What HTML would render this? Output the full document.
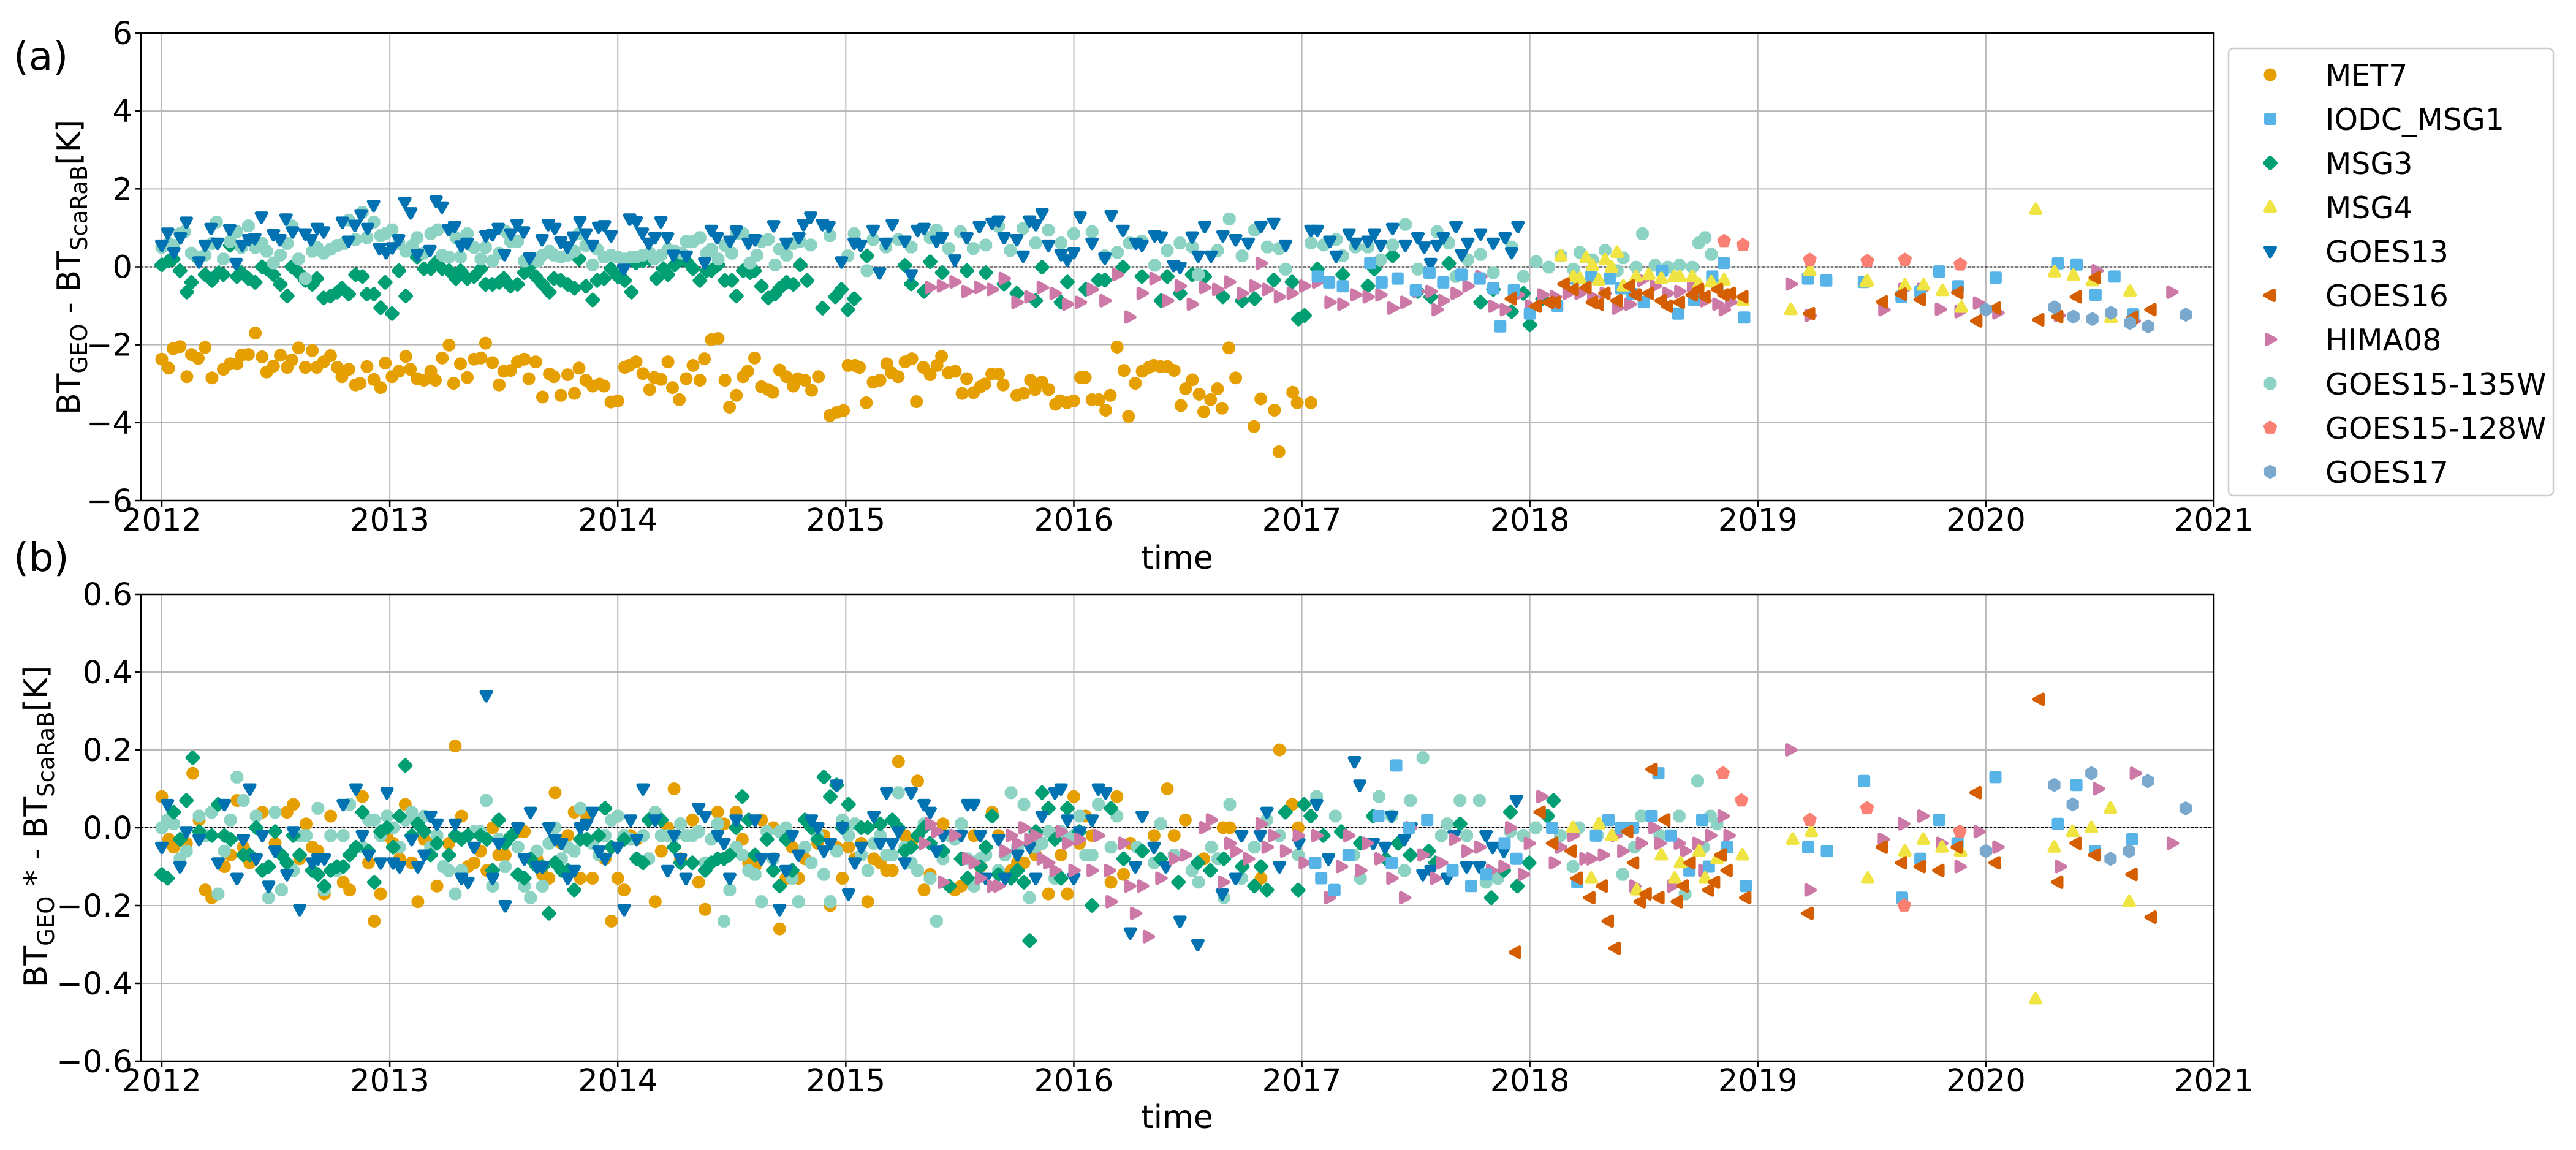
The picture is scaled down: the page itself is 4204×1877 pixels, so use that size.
<!DOCTYPE html>
<html><head><meta charset="utf-8"><title>BT GEO - ScaRaB</title>
<style>
html,body{margin:0;padding:0;background:#fff;}
svg{display:block;font-family:"DejaVu Sans","Liberation Sans",sans-serif;}
</style></head>
<body>
<svg id="fig" width="4204" height="1877" viewBox="0 0 4204 1877" xmlns="http://www.w3.org/2000/svg">
<rect width="4204" height="1877" fill="#fff"/>
<g id="panelA"></g>
<g id="panelB"></g>
<text x="22" y="114" font-size="64">(a)</text>
<text x="22" y="932" font-size="64">(b)</text>
<text x="1921" y="928" font-size="52" text-anchor="middle">time</text>
<text x="1921" y="1841" font-size="52" text-anchor="middle">time</text>
<text transform="translate(130,436) rotate(-90)" font-size="52" text-anchor="middle">BT<tspan font-size="37" dy="12">GEO</tspan><tspan dy="-12"> - BT</tspan><tspan font-size="37" dy="12">ScaRaB</tspan><tspan dy="-12">[K]</tspan></text>
<text transform="translate(76,1349) rotate(-90)" font-size="52" text-anchor="middle">BT<tspan font-size="37" dy="12">GEO</tspan><tspan dy="-12"> * - BT</tspan><tspan font-size="37" dy="12">ScaRaB</tspan><tspan dy="-12">[K]</tspan></text>
<g id="legend"></g>
</svg>
<script>
// ---------- top panel (a) data ----------
const met7A_t=[2012.00,2012.03,2012.05,2012.08,2012.11,2012.13,2012.16,2012.19,2012.22,2012.27,2012.30,2012.33,2012.35,2012.38,2012.41,2012.44,2012.46,2012.49,2012.52,2012.55,2012.57,2012.60,2012.63,2012.66,2012.68,2012.71,2012.74,2012.77,2012.79,2012.82,2012.85,2012.87,2012.90,2012.93,2012.96,2012.98,2013.01,2013.04,2013.07,2013.09,2013.12,2013.15,2013.18,2013.20,2013.23,2013.26,2013.28,2013.31,2013.34,2013.37,2013.40,2013.42,2013.45,2013.48,2013.50,2013.53,2013.56,2013.59,2013.61,2013.64,2013.67,2013.70,2013.72,2013.75,2013.78,2013.81,2013.83,2013.86,2013.89,2013.92,2013.94,2013.97,2014.00,2014.03,2014.05,2014.08,2014.11,2014.14,2014.16,2014.19,2014.22,2014.24,2014.27,2014.30,2014.33,2014.36,2014.38,2014.41,2014.44,2014.47,2014.49,2014.52,2014.55,2014.57,2014.60,2014.63,2014.66,2014.68,2014.71,2014.74,2014.77,2014.79,2014.82,2014.85,2014.88,2014.93,2014.96,2014.99,2015.01,
2015.04,2015.06,2015.09,2015.12,2015.15,2015.18,2015.20,2015.23,2015.26,2015.29,2015.31,2015.34,2015.37,2015.40,2015.42,2015.45,2015.48,2015.51,2015.53,2015.56,2015.59,2015.61,2015.64,2015.67,2015.69,2015.75,2015.78,2015.81,2015.83,2015.86,2015.89,2015.92,2015.94,2015.97,2016.00,2016.03,2016.05,2016.08,2016.11,2016.14,2016.16,2016.19,2016.22,2016.24,2016.27,2016.30,2016.33,2016.35,2016.38,2016.41,2016.44,2016.47,2016.49,2016.52,2016.55,2016.57,2016.60,2016.63,2016.65,2016.68,2016.71,2016.79,2016.82,2016.88,2016.90,2016.96,2016.98,2017.04];
const met7A_v=[-2.37,-2.6,-2.1,-2.05,-2.82,-2.25,-2.35,-2.07,-2.85,-2.63,-2.49,-2.49,-2.27,-2.25,-1.7,-2.31,-2.7,-2.55,-2.27,-2.58,-2.39,-2.08,-2.58,-2.15,-2.58,-2.44,-2.28,-2.58,-2.82,-2.63,-3.03,-2.99,-2.56,-2.89,-3.1,-2.47,-2.82,-2.68,-2.3,-2.63,-2.87,-2.91,-2.68,-2.91,-2.34,-2.01,-2.99,-2.49,-2.84,-2.37,-2.34,-1.96,-2.46,-3.03,-2.68,-2.66,-2.44,-2.37,-2.87,-2.44,-3.34,-2.75,-2.82,-3.3,-2.77,-3.25,-2.6,-2.91,-3.06,-3.01,-3.06,-3.47,-3.44,-2.58,-2.53,-2.44,-2.74,-3.15,-2.84,-2.89,-2.44,-3.1,-3.41,-2.87,-2.53,-2.91,-2.36,-1.87,-1.84,-2.91,-3.6,-3.3,-2.82,-2.68,-2.34,-3.08,-3.15,-3.22,-2.65,-2.82,-3.06,-2.87,-2.91,-3.17,-2.82,-3.82,-3.74,-3.69,-2.53,
-2.53,-2.58,-3.49,-2.96,-2.91,-2.49,-2.72,-2.82,-2.44,-2.36,-3.46,-2.58,-2.77,-2.53,-2.3,-2.72,-2.68,-3.25,-2.87,-3.23,-3.08,-3.01,-2.75,-2.75,-3.03,-3.3,-3.25,-2.91,-3.15,-2.96,-3.15,-3.53,-3.44,-3.49,-3.44,-2.84,-2.84,-3.41,-3.41,-3.68,-3.3,-2.06,-2.66,-3.84,-2.99,-2.68,-2.58,-2.53,-2.56,-2.56,-2.66,-3.56,-3.13,-2.9,-3.27,-3.72,-3.41,-3.13,-3.63,-2.08,-2.85,-4.1,-3.39,-3.68,-4.75,-3.22,-3.49,-3.49];

const g13A_t=[2012.0,2012.026,2012.053,2012.082,2012.108,2012.163,2012.19,2012.216,2012.245,2012.298,2012.326,2012.353,2012.382,2012.408,2012.437,2012.49,2012.518,2012.545,2012.574,2012.629,2012.655,2012.682,2012.71,2012.792,2012.819,2012.847,2012.874,2012.903,2012.929,2012.955,2012.984,2013.011,2013.039,2013.066,2013.092,2013.121,2013.176,2013.203,2013.229,2013.258,2013.284,2013.313,2013.339,2013.421,2013.45,2013.476,2013.503,2013.531,2013.558,2013.587,2013.613,2013.668,2013.695,2013.724,2013.75,2013.779,2013.805,2013.834,2013.86,2013.889,2013.916,2013.942,2013.971,2014.026,2014.052,2014.081,2014.108,2014.136,2014.163,2014.189,2014.218,2014.244,2014.3,2014.381,2014.41,2014.436,2014.492,2014.52,2014.573,2014.602,2014.684,2014.739,2014.794,
2014.815,2014.846,2014.898,2014.926,2014.981,2015.037,2015.065,2015.12,2015.148,2015.176,2015.204,2015.259,2015.287,2015.315,2015.343,2015.398,2015.423,2015.478,2015.531,2015.586,2015.642,2015.67,2015.694,2015.75,2015.778,2015.806,2015.833,2015.861,2015.889,2015.944,2015.972,2016.0,2016.028,2016.08,2016.136,2016.164,2016.216,2016.272,2016.299,2016.355,2016.383,2016.438,2016.466,2016.519,2016.546,2016.574,2016.602,2016.654,2016.71,2016.765,2016.821,2016.877,2016.929,2017.04,2017.068,2017.123,2017.151,2017.207,2017.235,2017.29,2017.318,2017.346,2017.398,2017.454,2017.509,2017.537,2017.565,2017.593,2017.62,2017.676,2017.701,2017.728,2017.784,2017.84,2017.892,2017.92,2017.948];
const g13A_v=[0.56,0.87,0.37,0.75,1.15,0.13,0.56,0.99,0.61,0.96,0.09,0.56,0.7,0.73,1.28,0.83,0.7,1.23,0.9,0.85,0.7,0.99,0.9,1.15,0.66,1.07,1.34,0.99,1.58,0.47,0.37,0.49,0.7,1.66,1.39,0.32,0.42,1.69,1.54,0.96,1.04,0.54,0.61,0.8,0.83,0.99,0.32,0.85,1.09,0.9,0.23,0.7,1.09,0.99,0.64,0.51,0.77,1.16,0.85,0.56,1.02,1.06,0.8,-0.06,1.23,1.16,0.87,0.61,0.75,1.16,0.75,0.3,0.28,0.11,0.94,0.75,0.66,0.92,0.61,0.7,1.06,0.61,0.75,
1.09,1.28,1.09,1.04,0.13,0.61,0.56,0.94,-0.15,0.61,1.09,0.66,-0.2,0.94,0.99,0.66,0.75,0.18,0.75,1.04,1.13,1.18,0.75,0.7,0.28,1.18,1.09,1.37,0.56,0.32,0.18,0.37,1.28,0.61,0.23,1.32,0.94,0.61,0.56,0.8,0.77,0.04,-0.01,0.77,0.28,1.04,0.28,0.8,0.7,0.61,1.04,1.13,0.56,0.94,0.94,0.66,0.28,0.85,0.61,0.66,0.85,0.56,0.99,0.56,0.75,0.51,0.09,0.56,0.75,1.04,0.32,0.61,0.85,0.61,0.75,0.37,1.04];

const msg3A_t=[2012.0,2012.03,2012.05,2012.08,2012.11,2012.13,2012.16,2012.19,2012.22,2012.25,2012.27,2012.3,2012.33,2012.35,2012.38,2012.41,2012.44,2012.46,2012.49,2012.52,2012.55,2012.57,2012.6,2012.63,2012.66,2012.68,2012.71,2012.74,2012.77,2012.79,2012.82,2012.85,2012.88,2012.9,2012.93,2012.96,2012.98,2013.01,2013.04,2013.07,2013.1,2013.12,2013.15,2013.18,2013.2,2013.23,2013.26,2013.29,2013.31,2013.34,2013.37,2013.4,2013.42,2013.45,2013.48,2013.5,2013.53,2013.56,2013.59,2013.62,2013.64,2013.67,2013.7,2013.72,2013.75,2013.78,2013.81,2013.83,2013.86,2013.89,2013.91,2013.94,2013.97,2014.0,2014.03,2014.06,2014.08,2014.11,2014.14,2014.17,2014.2,2014.22,2014.25,2014.28,2014.3,2014.33,2014.36,2014.39,2014.41,2014.44,2014.47,2014.5,2014.52,2014.55,2014.58,2014.6,2014.63,2014.66,2014.69,2014.71,2014.74,2014.77,2014.8,2014.83,
2014.898,2014.954,2014.981,2015.009,2015.037,2015.093,2015.259,2015.287,2015.343,2015.37,2015.423,2015.531,2015.614,2015.694,2015.75,2015.833,2015.861,2015.944,2015.972,2016.052,2016.108,2016.136,2016.216,2016.299,2016.383,2016.41,2016.466,2016.519,2016.574,2016.654,2016.738,2016.793,2016.877,2016.957,2016.985,2017.012,2017.068,2017.179,2017.29,2017.318,2017.398,2017.509,2017.565,2017.645,2017.784,2017.84,2017.92,2017.972,2018.0,2018.056];
const msg3A_v=[0.05,0.15,0.2,-0.1,-0.65,-0.4,0.2,-0.2,-0.35,-0.15,-0.2,0.55,-0.25,-0.15,-0.3,-0.4,0.0,-0.05,-0.2,-0.45,-0.75,0.0,-0.15,-0.35,-0.45,-0.3,-0.8,-0.75,-0.65,-0.55,-0.7,-0.2,-0.25,-0.7,-0.7,-1.05,-0.4,-1.2,-0.1,-0.75,0.45,0.25,-0.05,-0.05,0.1,-0.05,-0.1,-0.3,-0.1,-0.3,-0.25,-0.05,-0.45,-0.45,-0.4,-0.3,-0.5,-0.45,-0.15,0.05,-0.25,-0.45,-0.65,-0.3,-0.35,-0.45,-0.55,0.2,-0.5,-0.85,-0.35,-0.3,-0.05,-0.25,-0.35,-0.65,0.1,0.15,0.2,-0.3,-0.05,-0.2,0.05,0.2,0.15,-0.05,-0.35,-0.1,-0.1,0.05,-0.35,-0.35,-0.75,-0.1,-0.15,-0.1,-0.5,-0.8,-0.7,-0.55,-0.4,-0.45,0.05,-0.35,
-1.06,-0.77,-0.58,-1.1,-0.82,0.28,0.04,-0.44,-0.63,0.13,-0.15,-0.1,-0.15,-0.44,-0.68,-0.87,-0.01,-0.91,-0.39,-0.58,-0.34,-0.34,-0.01,-0.25,-0.87,-0.25,-0.68,-0.2,-0.25,-0.77,-0.87,-0.82,-0.34,-0.39,-1.34,-1.25,-0.06,-0.2,-0.49,-0.06,0.28,-0.63,-0.77,0.09,-0.91,-0.58,-1.15,-0.68,-1.49,-0.82];

const g135A_t=[2012.0,2012.03,2012.05,2012.08,2012.1,2012.13,2012.16,2012.19,2012.22,2012.24,2012.27,2012.3,2012.33,2012.35,2012.38,2012.41,2012.44,2012.46,2012.49,2012.52,2012.55,2012.57,2012.6,2012.63,2012.66,2012.68,2012.71,2012.74,2012.77,2012.8,2012.82,2012.85,2012.88,2012.9,2012.93,2012.96,2012.98,2013.01,2013.04,2013.07,2013.1,2013.12,2013.15,2013.18,2013.21,2013.23,2013.26,2013.29,2013.31,2013.34,2013.37,2013.4,2013.42,2013.45,2013.48,2013.51,2013.53,2013.56,2013.59,2013.62,2013.65,2013.67,2013.7,2013.72,2013.75,2013.78,2013.81,2013.83,2013.86,2013.89,2013.91,2013.94,2013.97,2014.0,2014.03,2014.06,2014.08,2014.11,2014.14,2014.16,2014.19,2014.22,2014.25,2014.28,2014.3,2014.33,2014.36,2014.39,2014.41,2014.44,2014.47,2014.5,2014.52,2014.55,2014.58,2014.61,2014.63,2014.66,2014.69,2014.71,2014.74,2014.77,2014.8,
2014.846,2014.93,2015.009,2015.037,2015.093,2015.12,2015.176,2015.231,2015.287,2015.37,2015.398,2015.451,2015.503,2015.559,2015.614,2015.67,2015.722,2015.778,2015.833,2015.889,2015.944,2016.0,2016.08,2016.136,2016.191,2016.244,2016.299,2016.355,2016.41,2016.466,2016.519,2016.546,2016.63,2016.682,2016.738,2016.793,2016.849,2016.901,2016.929,2017.04,2017.096,2017.151,2017.179,2017.235,2017.29,2017.346,2017.398,2017.454,2017.509,2017.593,2017.645,2017.676,2017.728,2017.784,2017.84,2017.92,2017.972,2018.028,2018.083,2018.136,2018.191,2018.219,2018.275,2018.33,2018.383,2018.41,2018.466,2018.494,2018.549,2018.605,2018.657,2018.713,2018.741,2018.769,2018.796,2018.824];
const g135A_v=[0.5,0.6,0.55,0.85,0.9,0.35,0.25,0.3,0.6,1.15,0.2,0.65,0.9,0.5,1.05,0.5,0.6,0.4,0.1,0.3,0.6,1.05,0.2,-0.3,0.4,0.5,0.35,0.45,0.55,0.6,1.2,0.7,1.4,0.75,1.15,0.8,0.85,0.95,0.6,0.4,0.55,0.75,0.35,0.85,0.95,0.3,0.25,0.75,0.25,0.85,0.5,0.2,0.5,0.15,0.35,0.9,0.65,0.65,0.15,0.2,0.15,0.3,0.4,0.3,0.25,0.3,0.4,0.85,0.55,0.05,0.45,0.25,0.3,0.25,0.2,0.25,0.25,0.3,0.35,0.2,0.3,0.45,0.4,0.35,0.65,0.65,0.75,0.35,0.45,0.2,0.55,0.35,0.85,0.85,0.1,0.3,0.65,0.7,0.05,0.45,0.3,0.6,0.65,
0.56,0.8,0.28,0.85,-0.1,0.7,0.51,0.7,0.51,0.75,0.94,0.47,0.9,0.47,0.56,1.04,0.42,0.99,0.61,0.94,0.61,0.85,0.9,0.28,0.37,0.61,0.66,0.04,0.42,0.61,0.51,-0.2,0.42,1.23,0.28,0.94,0.51,0.47,-0.06,0.61,0.56,0.7,0.28,0.51,0.51,0.18,0.56,1.09,-0.06,0.9,0.61,-0.25,0.18,0.32,-0.15,0.51,-0.25,0.13,-0.01,0.28,-0.06,0.37,0.18,0.42,-0.1,0.23,-0.01,0.85,0.04,-0.01,0.04,-0.01,0.61,0.75,0.32,-0.49];

const himaA_t=[2015.37,2015.423,2015.478,2015.531,2015.586,2015.642,2015.694,2015.75,2015.806,2015.861,2015.917,2015.972,2016.028,2016.08,2016.136,2016.191,2016.244,2016.299,2016.355,2016.41,2016.466,2016.519,2016.574,2016.63,2016.682,2016.738,2016.793,2016.821,2016.849,2016.901,2016.957,2017.012,2017.068,2017.123,2017.179,2017.235,2017.29,2017.346,2017.398,2017.454,2017.509,2017.565,2017.593,2017.62,2017.676,2017.728,2017.784,2017.84,2017.892,2017.948,2018.003,2018.056,2018.111,2018.167,2018.219,2018.275,2018.33,2018.383,2018.438,2018.494,2018.549,2018.605,2018.657,2018.713,2018.769,2018.824,2018.852,2018.88,2019.145,2019.228,2019.552,2019.639,2019.721,2019.8,2019.886,2019.967,2020.052,2020.322,2020.487,2020.65,2020.815];
const himaA_v=[-0.53,-0.49,-0.39,-0.63,-0.53,-0.58,-0.3,-0.91,-0.77,-0.53,-0.68,-0.96,-0.91,-0.58,-0.87,-0.2,-1.29,-0.68,-0.3,-0.87,-0.49,-0.96,-0.53,-0.58,-0.39,-0.68,-0.49,0.09,-0.58,-0.77,-0.68,-0.49,-0.39,-0.91,-0.96,-0.72,-0.77,-0.72,-1.06,-0.91,-0.63,-0.63,-1.1,-0.87,-0.68,-0.49,-0.25,-1.01,-1.1,-0.72,-1.01,-0.72,-0.77,-0.68,-0.68,-0.77,-0.68,-1.06,-0.96,-0.34,-0.49,-0.68,-0.63,-0.49,-0.87,-0.96,-1.1,-0.91,-0.44,-1.25,-1.1,-0.58,-0.58,-1.09,-1.15,-0.93,-1.18,-1.25,-0.1,-1.39,-0.65];

const iodcA_t=[2017.07,2017.12,2017.18,2017.3,2017.35,2017.42,2017.5,2017.56,2017.62,2017.7,2017.78,2017.84,2017.87,2017.93,2018.0,2018.12,2018.2,2018.27,2018.35,2018.4,2018.45,2018.5,2018.58,2018.65,2018.72,2018.8,2018.85,2018.94,2019.22,2019.3,2019.465,2019.63,2019.713,2019.796,2019.878,2020.043,2020.316,2020.398,2020.481,2020.564,2020.646];
const iodcA_v=[-0.25,-0.4,-0.5,0.1,-0.4,-0.3,-0.6,-0.15,-0.4,-0.2,-0.3,-0.55,-1.53,-0.6,-1.2,-1.0,-0.3,-0.25,-0.3,-0.55,-0.7,-0.9,-0.1,-1.2,-0.85,-0.25,0.1,-1.3,-0.3,-0.35,-0.39,-0.77,-0.63,-0.12,-0.5,-0.28,0.09,0.06,-0.72,-0.25,-1.22];

const msg4A_t=[2018.136,2018.191,2018.219,2018.247,2018.275,2018.302,2018.33,2018.358,2018.383,2018.41,2018.466,2018.522,2018.577,2018.633,2018.657,2018.713,2018.741,2018.796,2018.852,2018.935,2019.145,2019.228,2019.475,2019.48,2019.645,2019.727,2019.81,2019.893,2020.219,2020.301,2020.384,2020.467,2020.549,2020.632];
const msg4A_v=[0.28,-0.25,-0.3,0.23,0.04,-0.34,0.18,-0.01,0.37,-0.49,-0.25,-0.2,-0.3,-0.25,-0.25,-0.25,-0.44,-0.39,-0.34,-0.87,-1.1,-0.1,-0.39,-0.36,-0.47,-0.47,-0.61,-1.04,1.47,-0.13,-0.22,-0.36,-1.3,-0.63];

const g16A_t=[2017.92,2018.028,2018.083,2018.111,2018.151,2018.191,2018.247,2018.275,2018.302,2018.33,2018.383,2018.438,2018.466,2018.522,2018.577,2018.605,2018.657,2018.713,2018.741,2018.769,2018.824,2018.852,2018.88,2018.935,2019.228,2019.548,2019.63,2019.713,2019.878,2019.961,2020.043,2020.233,2020.316,2020.398,2020.481,2020.646,2020.725];
const g16A_v=[-0.82,-1.01,-0.91,-0.91,-0.44,-0.58,-0.53,-0.91,-0.96,-0.68,-0.87,-0.49,-0.72,-0.68,-0.87,-1.01,-0.91,-0.72,-0.58,-0.77,-0.58,-0.72,-0.68,-0.77,-1.2,-0.9,-0.7,-0.84,-0.66,-1.39,-1.06,-1.36,-1.28,-0.77,-0.28,-1.3,-1.1];

const g128A_t=[2018.852,2018.935,2019.228,2019.48,2019.645,2019.888];
const g128A_v=[0.66,0.56,0.18,0.15,0.18,0.06];

const g17A_t=[2020.0,2020.301,2020.384,2020.467,2020.549,2020.632,2020.712,2020.877];
const g17A_v=[-1.1,-1.04,-1.28,-1.34,-1.18,-1.44,-1.53,-1.23];

// ---------- bottom panel (b) data ----------
const met7B_t=[2012.0,2012.031,2012.052,2012.108,2012.136,2012.164,2012.191,2012.219,2012.275,2012.302,2012.33,2012.358,2012.386,2012.441,2012.497,2012.549,2012.577,2012.605,2012.633,2012.66,2012.685,2012.713,2012.741,2012.796,2012.824,2012.88,2012.907,2012.932,2012.96,2012.988,2013.015,2013.043,2013.068,2013.096,2013.123,2013.151,2013.179,2013.207,2013.259,2013.287,2013.315,2013.343,2013.37,2013.398,2013.426,2013.451,2013.478,2013.506,2013.562,2013.59,2013.645,2013.67,2013.698,2013.725,2013.753,2013.781,2013.809,2013.836,2013.864,2013.889,2013.944,2013.972,2014.0,2014.028,2014.056,2014.083,2014.111,2014.164,2014.191,2014.219,2014.247,2014.275,2014.327,2014.355,2014.383,2014.438,2014.466,2014.519,2014.546,2014.574,2014.602,2014.63,2014.682,2014.71,2014.738,2014.765,2014.793,2014.821,2014.877,2014.904,2014.932,2014.96,2014.985,2015.012,2015.04,2015.068,2015.096,2015.123,2015.151,2015.179,2015.204,2015.231,2015.259,2015.287,2015.315,2015.343,2015.37,2015.426,2015.478,2015.506,2015.562,2015.59,2015.642,2015.67,2015.725,2015.753,2015.781,2015.833,2015.889,2015.944,2015.972,2016.0,2016.025,2016.052,2016.08,
2016.163,2016.189,2016.218,2016.248,2016.352,2016.41,2016.44,2016.489,2016.57,2016.655,2016.684,2016.821,2016.902,2016.958,2016.984];
const met7B_v=[0.08,-0.03,-0.05,-0.04,0.14,0.02,-0.16,-0.18,-0.1,-0.07,0.07,-0.05,-0.09,0.04,-0.04,0.04,0.06,-0.08,0.01,-0.05,-0.06,-0.17,0.03,-0.14,-0.16,0.08,-0.09,-0.24,-0.17,-0.02,-0.04,-0.08,0.06,-0.09,-0.19,-0.03,-0.04,-0.15,-0.04,0.21,0.03,-0.1,-0.09,-0.06,-0.11,0.0,-0.07,-0.07,-0.01,-0.01,-0.08,-0.12,-0.13,0.09,-0.04,-0.02,0.04,-0.13,0.03,-0.13,-0.08,-0.24,-0.13,-0.16,-0.02,-0.03,-0.02,-0.19,-0.06,0.0,0.1,-0.08,0.02,-0.14,-0.21,0.04,0.01,0.04,-0.03,-0.09,-0.1,0.02,0.0,-0.26,-0.13,-0.05,-0.13,-0.08,-0.04,-0.02,-0.2,-0.05,-0.13,-0.05,-0.08,-0.04,-0.19,-0.08,-0.09,-0.11,-0.11,0.17,-0.02,-0.04,0.12,-0.16,-0.12,0.01,-0.16,-0.15,-0.02,-0.1,0.04,-0.02,-0.11,-0.09,-0.09,-0.07,-0.17,-0.07,-0.17,0.08,-0.04,0.03,-0.02,
-0.14,0.08,-0.12,-0.04,-0.02,0.1,-0.02,0.02,-0.08,0.0,0.0,-0.13,0.2,0.06,0.0];

const g13B_t=[2012.0,2012.025,2012.08,2012.108,2012.164,2012.247,2012.275,2012.33,2012.358,2012.386,2012.414,2012.441,2012.469,2012.497,2012.549,2012.577,2012.605,2012.66,2012.685,2012.713,2012.796,2012.852,2012.88,2012.907,2012.96,2012.988,2013.015,2013.043,2013.096,2013.123,2013.151,2013.179,2013.207,2013.287,2013.315,2013.343,2013.37,2013.423,2013.451,2013.478,2013.506,2013.562,2013.59,2013.617,2013.645,2013.67,2013.698,2013.725,2013.753,2013.781,2013.809,2013.836,2013.864,2013.889,2013.917,2013.944,2014.0,2014.028,2014.056,2014.083,2014.111,2014.164,2014.219,2014.247,2014.275,2014.299,2014.355,2014.383,2014.438,2014.466,2014.491,2014.519,2014.602,2014.63,2014.682,2014.71,2014.738,2014.765,2014.793,2014.849,2014.877,2014.904,2014.932,2014.96,2014.985,2015.012,2015.04,2015.068,2015.123,2015.151,2015.179,2015.204,2015.231,2015.259,2015.287,2015.343,2015.37,2015.398,2015.426,2015.506,2015.534,2015.562,2015.59,2015.614,2015.67,2015.698,2015.753,2015.806,2015.833,2015.861,2015.917,2015.944,2015.972,2016.0,2016.025,2016.08,2016.108,
2016.14,2016.248,2016.27,2016.3,2016.352,2016.404,2016.466,2016.544,2016.651,2016.71,2016.736,2016.818,2016.847,2016.902,2016.987,2017.065,2017.117,2017.231,2017.254,2017.313,2017.365,2017.394,2017.45,2017.479,2017.531,2017.567,2017.638,2017.668,2017.723,2017.779,2017.808,2017.837,2017.886,2017.941];
const g13B_v=[-0.05,0.06,-0.1,-0.01,-0.03,-0.09,0.06,-0.13,-0.03,0.1,-0.08,-0.02,-0.15,-0.06,-0.12,-0.01,-0.21,-0.09,-0.08,-0.08,0.06,0.1,-0.02,-0.07,-0.09,0.09,-0.09,-0.1,-0.03,-0.1,-0.07,0.03,0.01,0.01,-0.13,-0.14,-0.05,0.34,-0.13,-0.04,-0.2,0.0,-0.08,0.04,-0.1,-0.1,0.0,-0.03,-0.04,-0.13,-0.11,0.0,0.01,0.04,-0.06,-0.08,-0.05,-0.21,0.02,-0.03,0.1,0.02,-0.11,-0.02,-0.08,-0.13,0.05,0.03,-0.02,-0.04,-0.13,0.02,0.02,-0.08,-0.08,-0.21,-0.11,-0.02,-0.07,0.02,0.0,-0.06,-0.04,0.11,0.0,-0.17,-0.09,-0.05,0.03,-0.04,0.09,-0.04,-0.01,-0.09,0.09,0.06,0.04,-0.06,-0.02,-0.02,0.06,0.06,-0.02,-0.13,-0.03,-0.13,-0.07,-0.05,-0.13,0.03,0.09,0.1,0.02,-0.13,-0.01,0.02,0.1,
0.09,-0.27,-0.1,0.03,-0.05,-0.1,-0.24,-0.3,-0.17,-0.13,-0.02,-0.02,0.04,-0.1,-0.04,0.06,-0.08,0.17,0.11,-0.04,-0.05,0.03,-0.03,0.0,-0.12,-0.11,-0.13,-0.02,-0.1,-0.1,-0.02,-0.05,-0.06,0.07];

const msg3B_t=[2012.0,2012.025,2012.052,2012.08,2012.108,2012.136,2012.164,2012.219,2012.247,2012.275,2012.302,2012.358,2012.386,2012.414,2012.441,2012.469,2012.497,2012.525,2012.549,2012.577,2012.605,2012.66,2012.685,2012.713,2012.741,2012.768,2012.796,2012.824,2012.852,2012.88,2012.907,2012.932,2012.96,2012.988,2013.015,2013.043,2013.068,2013.096,2013.123,2013.151,2013.179,2013.207,2013.259,2013.287,2013.315,2013.343,2013.398,2013.426,2013.451,2013.478,2013.506,2013.534,2013.562,2013.59,2013.617,2013.645,2013.67,2013.698,2013.725,2013.753,2013.781,2013.809,2013.836,2013.864,2013.917,2013.944,2013.972,2014.028,2014.083,2014.111,2014.136,2014.191,2014.247,2014.275,2014.327,2014.383,2014.41,2014.438,2014.466,2014.491,2014.519,2014.546,2014.574,2014.602,2014.654,2014.682,2014.71,2014.738,2014.765,2014.821,2014.849,2014.877,2014.904,2014.932,2014.96,2014.985,2015.012,2015.068,2015.096,2015.151,2015.204,2015.231,2015.259,2015.287,2015.315,2015.343,2015.37,2015.426,2015.454,2015.506,2015.534,2015.59,2015.614,2015.642,2015.67,2015.725,2015.753,2015.781,2015.806,2015.833,2015.861,2015.889,2015.917,2015.944,2015.972,2016.025,2016.08,
2016.163,2016.218,2016.3,2016.381,2016.459,2016.544,2016.599,2016.658,2016.739,2016.792,2016.821,2016.847,2016.928,2016.984,2017.01,2017.039,2017.094,2017.173,2017.257,2017.313,2017.368,2017.423,2017.476,2017.557,2017.586,2017.694,2017.831,2017.886,2017.915,2017.945,2017.997,2018.078,2018.104];
const msg3B_v=[-0.12,-0.13,0.04,-0.03,0.07,0.18,-0.01,-0.02,0.06,-0.02,-0.03,-0.07,-0.07,0.0,-0.11,-0.1,-0.01,-0.07,-0.09,-0.02,-0.07,-0.11,-0.12,-0.15,-0.11,-0.1,-0.1,-0.07,-0.05,0.04,-0.06,-0.14,-0.01,0.0,-0.05,0.03,0.16,-0.02,0.01,-0.01,-0.07,-0.04,-0.07,-0.02,-0.03,-0.02,-0.02,-0.03,-0.11,0.02,-0.04,-0.02,-0.12,-0.13,-0.08,-0.1,-0.1,-0.22,-0.09,-0.11,-0.11,-0.16,-0.03,-0.03,-0.02,0.05,-0.05,-0.03,-0.08,-0.09,0.02,0.02,-0.05,-0.09,-0.09,-0.11,-0.09,-0.08,-0.08,-0.07,0.0,0.08,0.02,-0.07,-0.03,-0.11,-0.15,-0.03,-0.11,0.02,0.0,-0.03,0.13,0.08,0.11,0.0,0.06,0.0,0.0,0.01,0.02,0.0,-0.06,-0.05,-0.02,0.0,-0.04,-0.06,-0.15,-0.08,-0.13,-0.1,-0.05,0.03,-0.12,-0.13,-0.11,-0.14,-0.29,-0.01,0.09,0.05,-0.03,-0.13,0.05,-0.01,-0.2,
0.05,-0.08,-0.06,-0.08,-0.14,-0.09,-0.11,-0.08,-0.1,-0.15,-0.1,-0.16,0.04,-0.16,0.06,0.03,-0.02,-0.01,-0.04,0.03,-0.08,-0.04,-0.07,-0.06,-0.09,0.01,-0.18,-0.11,0.04,-0.15,-0.09,0.03,0.07];

const g135B_t=[2012.0,2012.025,2012.052,2012.08,2012.108,2012.164,2012.191,2012.219,2012.247,2012.275,2012.302,2012.33,2012.358,2012.414,2012.469,2012.497,2012.525,2012.577,2012.605,2012.633,2012.685,2012.713,2012.741,2012.768,2012.796,2012.824,2012.88,2012.907,2012.932,2012.96,2012.988,2013.015,2013.043,2013.068,2013.096,2013.123,2013.151,2013.179,2013.207,2013.235,2013.259,2013.287,2013.315,2013.343,2013.37,2013.398,2013.423,2013.451,2013.478,2013.506,2013.562,2013.59,2013.617,2013.645,2013.67,2013.698,2013.725,2013.753,2013.781,2013.809,2013.836,2013.864,2013.889,2013.917,2013.944,2013.972,2014.0,2014.028,2014.056,2014.083,2014.111,2014.136,2014.164,2014.191,2014.219,2014.247,2014.275,2014.299,2014.327,2014.355,2014.383,2014.41,2014.438,2014.466,2014.491,2014.519,2014.546,2014.574,2014.602,2014.63,2014.654,2014.682,2014.71,2014.738,2014.765,2014.793,2014.821,2014.849,2014.877,2014.904,2014.932,2014.96,2014.985,2015.012,2015.04,2015.068,2015.096,2015.123,2015.151,2015.179,2015.204,2015.231,2015.259,2015.287,2015.315,2015.343,2015.37,2015.398,2015.426,2015.454,2015.478,2015.506,2015.534,2015.562,2015.59,2015.614,2015.67,2015.698,2015.725,2015.753,2015.781,2015.806,2015.833,2015.861,2015.889,2015.917,2015.944,2015.972,2016.0,2016.025,2016.052,2016.08,2016.108,
2016.163,2016.189,2016.277,2016.352,2016.381,2016.44,2016.518,2016.547,2016.603,2016.632,2016.658,2016.684,2016.736,2016.792,2016.847,2016.902,2016.984,2017.065,2017.147,2017.228,2017.257,2017.339,2017.394,2017.45,2017.476,2017.531,2017.612,2017.638,2017.694,2017.723,2017.779,2017.808,2017.86,2017.915,2017.971,2018.026,2018.078,2018.134,2018.189,2018.215,2018.296,2018.407,2018.459,2018.489,2018.57,2018.655,2018.681,2018.736,2018.762,2018.792,2018.821];
const g135B_v=[0.0,0.02,0.01,-0.08,-0.06,0.03,-0.02,0.04,-0.17,-0.06,0.02,0.13,0.07,0.03,-0.18,0.04,-0.16,-0.11,-0.02,-0.02,0.05,-0.16,-0.02,-0.11,-0.02,0.06,-0.05,0.02,0.02,-0.02,0.03,0.0,-0.05,0.02,0.04,0.02,0.03,-0.05,-0.02,-0.1,-0.11,-0.17,-0.11,-0.02,-0.01,-0.01,0.07,-0.15,-0.03,-0.1,-0.05,-0.15,-0.18,-0.06,-0.15,-0.04,0.0,-0.08,-0.05,-0.06,0.05,-0.03,-0.04,-0.07,-0.02,0.02,0.03,-0.02,-0.03,-0.08,-0.02,-0.08,0.04,-0.02,-0.02,-0.02,0.01,-0.02,-0.02,-0.01,-0.09,-0.03,0.01,-0.24,-0.16,-0.05,-0.07,-0.11,-0.12,-0.19,-0.01,-0.08,-0.01,0.0,-0.13,-0.19,-0.05,-0.09,-0.02,-0.12,-0.19,-0.06,0.02,-0.02,0.01,-0.07,-0.11,-0.04,-0.02,-0.07,-0.07,0.09,-0.05,-0.09,-0.11,0.01,-0.13,-0.24,-0.08,-0.02,-0.03,0.01,-0.08,-0.15,-0.08,-0.07,-0.11,-0.07,0.09,-0.05,0.06,-0.18,-0.05,-0.04,-0.01,-0.13,-0.01,-0.03,-0.02,0.03,-0.07,-0.07,0.06,
-0.05,0.03,-0.05,-0.09,0.01,-0.07,-0.11,-0.14,-0.05,-0.08,-0.18,0.06,-0.13,-0.05,0.02,-0.02,-0.07,0.08,0.03,-0.07,-0.13,0.08,0.03,-0.11,0.07,0.18,-0.02,0.01,0.07,-0.02,0.07,-0.14,-0.13,-0.01,-0.02,0.0,0.03,-0.02,-0.1,0.0,-0.02,-0.12,-0.05,0.03,-0.02,0.03,-0.17,0.12,-0.05,0.03,0.01];

const himaB_t=[2015.343,2015.37,2015.398,2015.426,2015.478,2015.534,2015.562,2015.59,2015.642,2015.67,2015.698,2015.725,2015.753,2015.781,2015.806,2015.833,2015.861,2015.889,2015.917,2015.944,2015.972,2016.0,2016.025,2016.08,2016.108,2016.156,2016.163,2016.218,2016.244,2016.27,2016.3,2016.326,2016.381,2016.44,2016.489,2016.573,2016.603,2016.655,2016.684,2016.71,2016.765,2016.821,2016.847,2016.876,2016.928,2016.984,2017.01,2017.065,2017.121,2017.173,2017.205,2017.257,2017.287,2017.342,2017.394,2017.45,2017.476,2017.531,2017.586,2017.612,2017.668,2017.723,2017.779,2017.831,2017.886,2017.915,2017.971,2017.997,2018.052,2018.107,2018.134,2018.189,2018.241,2018.27,2018.322,2018.378,2018.407,2018.459,2018.489,2018.544,2018.57,2018.625,2018.655,2018.681,2018.736,2018.762,2018.792,2018.847,2018.873,2019.143,2019.228,2019.55,2019.638,2019.723,2019.805,2019.886,2019.97,2020.052,2020.326,2020.492,2020.655,2020.817];
const himaB_v=[-0.04,0.01,-0.01,-0.14,-0.02,-0.08,-0.09,-0.13,-0.15,-0.15,-0.06,-0.02,-0.04,0.0,-0.03,-0.02,-0.08,-0.09,-0.11,-0.01,-0.04,-0.11,-0.03,-0.11,-0.02,-0.11,-0.19,-0.04,-0.15,-0.22,-0.15,-0.28,-0.13,-0.08,-0.07,0.0,0.02,-0.14,-0.04,-0.06,-0.08,0.01,-0.05,-0.02,-0.06,-0.02,-0.09,-0.02,-0.18,-0.1,-0.02,-0.11,-0.04,-0.08,-0.13,-0.18,0.0,-0.07,-0.13,-0.09,-0.03,-0.06,-0.05,-0.11,-0.1,0.0,-0.12,-0.04,0.08,-0.09,-0.05,-0.02,-0.08,-0.08,-0.07,-0.02,-0.06,-0.15,-0.04,0.0,-0.04,-0.15,-0.04,-0.06,-0.04,-0.11,-0.02,0.03,-0.02,0.2,-0.16,-0.03,0.01,0.03,-0.04,-0.1,-0.01,-0.05,-0.1,0.1,0.14,-0.04];

const iodcB_t=[2017.059,2017.085,2017.143,2017.205,2017.336,2017.394,2017.414,2017.469,2017.55,2017.661,2017.743,2017.808,2017.889,2017.941,2018.098,2018.208,2018.29,2018.345,2018.401,2018.453,2018.534,2018.564,2018.619,2018.7,2018.756,2018.785,2018.866,2018.948,2019.221,2019.303,2019.466,2019.632,2019.713,2019.795,2019.876,2020.042,2020.316,2020.397,2020.479,2020.642];
const iodcB_v=[-0.09,-0.13,-0.16,-0.07,0.03,-0.09,0.16,0.0,0.02,-0.11,-0.15,-0.12,-0.04,-0.08,0.0,-0.14,-0.02,0.02,0.0,0.0,0.03,0.14,-0.02,-0.11,0.02,-0.1,-0.05,-0.15,-0.05,-0.06,0.12,-0.18,-0.08,0.02,-0.04,0.13,0.01,0.11,-0.06,-0.03];

const g16B_t=[2017.938,2018.046,2018.101,2018.182,2018.208,2018.264,2018.319,2018.345,2018.375,2018.43,2018.456,2018.485,2018.511,2018.537,2018.567,2018.593,2018.648,2018.674,2018.704,2018.785,2018.811,2018.84,2018.866,2018.948,2019.221,2019.547,2019.632,2019.713,2019.795,2019.876,2019.958,2020.042,2020.235,2020.316,2020.397,2020.479,2020.642,2020.726];
const g16B_v=[-0.32,0.04,-0.04,-0.06,-0.13,-0.18,-0.15,-0.24,-0.31,-0.01,-0.09,-0.19,-0.17,0.15,-0.18,0.02,-0.19,-0.15,-0.09,-0.16,-0.14,-0.07,-0.11,-0.18,-0.22,-0.05,-0.09,-0.1,-0.11,-0.05,0.09,-0.09,0.33,-0.14,-0.04,-0.07,-0.12,-0.23];

const msg4B_t=[2018.189,2018.27,2018.303,2018.36,2018.469,2018.577,2018.635,2018.661,2018.743,2018.769,2018.821,2018.932,2019.153,2019.235,2019.482,2019.645,2019.726,2019.808,2019.889,2020.218,2020.3,2020.381,2020.463,2020.547,2020.629];
const msg4B_v=[0.0,-0.13,0.01,-0.02,-0.16,-0.07,-0.13,-0.09,-0.06,-0.13,-0.08,-0.07,-0.03,-0.01,-0.13,-0.06,-0.03,-0.05,-0.06,-0.44,-0.05,-0.01,0.0,0.05,-0.19];

const g128B_t=[2018.847,2018.928,2019.228,2019.479,2019.642,2019.886];
const g128B_v=[0.14,0.07,0.02,0.05,-0.2,-0.01];

const g17B_t=[2020.0,2020.3,2020.381,2020.463,2020.547,2020.629,2020.71,2020.876];
const g17B_v=[-0.06,0.11,0.06,0.14,-0.08,-0.06,0.12,0.05];

// ---------- axis / legend labels ----------
const xTicks=[2012,2013,2014,2015,2016,2017,2018,2019,2020,2021];
const yTicksA=[-6,-4,-2,0,2,4,6];
const yTicksB=[-0.6,-0.4,-0.2,0.0,0.2,0.4,0.6];
const seriesNames=["MET7","IODC_MSG1","MSG3","MSG4","GOES13","GOES16","HIMA08","GOES15-135W","GOES15-128W","GOES17"];

const NS="http://www.w3.org/2000/svg";
const STY={
 "MET7":{c:"#E69F00",s:"circle"},
 "IODC_MSG1":{c:"#56B4E9",s:"square"},
 "MSG3":{c:"#009E73",s:"diamond"},
 "MSG4":{c:"#F0E442",s:"up"},
 "GOES13":{c:"#0072B2",s:"down"},
 "GOES16":{c:"#D55E00",s:"left"},
 "HIMA08":{c:"#CC79A7",s:"right"},
 "GOES15-135W":{c:"#8CD3C3",s:"oct"},
 "GOES15-128W":{c:"#F98072",s:"pent"},
 "GOES17":{c:"#7BA9CE",s:"hex"}
};
function mk(tag,attrs,parent){const e=document.createElementNS(NS,tag);for(const k in attrs)e.setAttribute(k,attrs[k]);parent.appendChild(e);return e;}
function regPoly(n,r,rot){const p=[];for(let i=0;i<n;i++){const a=rot+i*2*Math.PI/n;p.push((r*Math.cos(a)).toFixed(2)+","+(r*Math.sin(a)).toFixed(2));}return p.join(" ");}
const SHAPES={
 square:"-7,-7 7,-7 7,7 -7,7",
 diamond:"0,-9 9,0 0,9 -9,0",
 up:"0,-8.5 8,6 -8,6",
 down:"0,8.5 8,-6 -8,-6",
 left:"-8.5,0 6,-8 6,8",
 right:"8.5,0 -6,-8 -6,8",
 oct:regPoly(8,8,Math.PI/8),
 pent:regPoly(5,8.5,-Math.PI/2),
 hex:regPoly(6,8.2,-Math.PI/2)
};
function marker(parent,name,cx,cy){
  const st=STY[name];let el;
  if(st.s==="circle"){el=mk("circle",{cx:cx.toFixed(1),cy:cy.toFixed(1),r:10.5,fill:st.c},parent);}
  else{el=mk("polygon",{points:SHAPES[st.s],transform:"translate("+cx.toFixed(1)+","+cy.toFixed(1)+")",fill:st.c,stroke:st.c,"stroke-width":6,"stroke-linejoin":"round"},parent);}
  
  
  return el;
}
const AX={x0:230,x1:3613,t0:2012-34/372.1,t1:2021};
function xs(t){return AX.x0+(t-AX.t0)/(AX.t1-AX.t0)*(AX.x1-AX.x0);}

function panel(g,top,bot,ymin,ymax,yt,fmt,series,tag){
  const ys=v=>bot-(v-ymin)/(ymax-ymin)*(bot-top);
  const grid=mk("g",{},g);
  
  
  xTicks.forEach(t=>{
    const l=mk("line",{x1:xs(t),x2:xs(t),y1:top,y2:bot,stroke:"#b8b8b8","stroke-width":2},grid);
    
    
  });
  yt.forEach(v=>{
    const l=mk("line",{x1:AX.x0,x2:AX.x1,y1:ys(v),y2:ys(v),stroke:"#b8b8b8","stroke-width":2},grid);
    
    
  });
  const zl=mk("line",{x1:AX.x0,x2:AX.x1,y1:ys(0),y2:ys(0),stroke:"#000","stroke-width":2,"stroke-dasharray":"4,3"},g);
  
  
  series.forEach(([name,T,V])=>{
    const sg=mk("g",{},g);
    
    
    for(let i=0;i<T.length;i++){marker(sg,name,xs(T[i]),ys(V[i]));}
  });
  const fr=mk("rect",{x:AX.x0,y:top,width:AX.x1-AX.x0,height:bot-top,fill:"none",stroke:"#000","stroke-width":2.5},g);
  
  
  xTicks.forEach(t=>{
    mk("line",{x1:xs(t),x2:xs(t),y1:bot,y2:bot+10,stroke:"#000","stroke-width":2.5},g);
    const tx=mk("text",{x:xs(t),y:bot+49,"font-size":51,"text-anchor":"middle"},g);
    tx.textContent=String(t);
    
    
  });
  yt.forEach(v=>{
    mk("line",{x1:AX.x0-10,x2:AX.x0,y1:ys(v),y2:ys(v),stroke:"#000","stroke-width":2.5},g);
    const tx=mk("text",{x:AX.x0-14,y:ys(v)+18,"font-size":51,"text-anchor":"end"},g);
    tx.textContent=fmt(v);
    
    
  });
}
function minus(s){return s.replace("-","\u2212");}
panel(document.getElementById("panelA"),54,817,-6,6,yTicksA,v=>minus(String(v)),[
 ["MET7",met7A_t,met7A_v],["MSG3",msg3A_t,msg3A_v],["GOES15-135W",g135A_t,g135A_v],["GOES13",g13A_t,g13A_v],
 ["HIMA08",himaA_t,himaA_v],["IODC_MSG1",iodcA_t,iodcA_v],["MSG4",msg4A_t,msg4A_v],["GOES16",g16A_t,g16A_v],
 ["GOES15-128W",g128A_t,g128A_v],["GOES17",g17A_t,g17A_v]],"a");
panel(document.getElementById("panelB"),970,1732,-0.6,0.6,yTicksB,v=>minus(v.toFixed(1)),[
 ["MET7",met7B_t,met7B_v],["GOES15-135W",g135B_t,g135B_v],["MSG3",msg3B_t,msg3B_v],["GOES13",g13B_t,g13B_v],
 ["HIMA08",himaB_t,himaB_v],["IODC_MSG1",iodcB_t,iodcB_v],["MSG4",msg4B_t,msg4B_v],["GOES16",g16B_t,g16B_v],
 ["GOES15-128W",g128B_t,g128B_v],["GOES17",g17B_t,g17B_v]],"b");

// legend
const lg=document.getElementById("legend");
const lbox=mk("rect",{x:3637,y:79,width:530,height:730,rx:8,fill:"#fff",stroke:"#cccccc","stroke-width":2.5},lg);


seriesNames.forEach((n,i)=>{
  const cy=122+i*72;
  const eg=mk("g",{},lg);
  
  
  marker(eg,n,3705,cy);
  const t=mk("text",{x:3795,y:cy+18,"font-size":49},eg);
  t.textContent=n;
  
  
});
</script>
</body></html>
